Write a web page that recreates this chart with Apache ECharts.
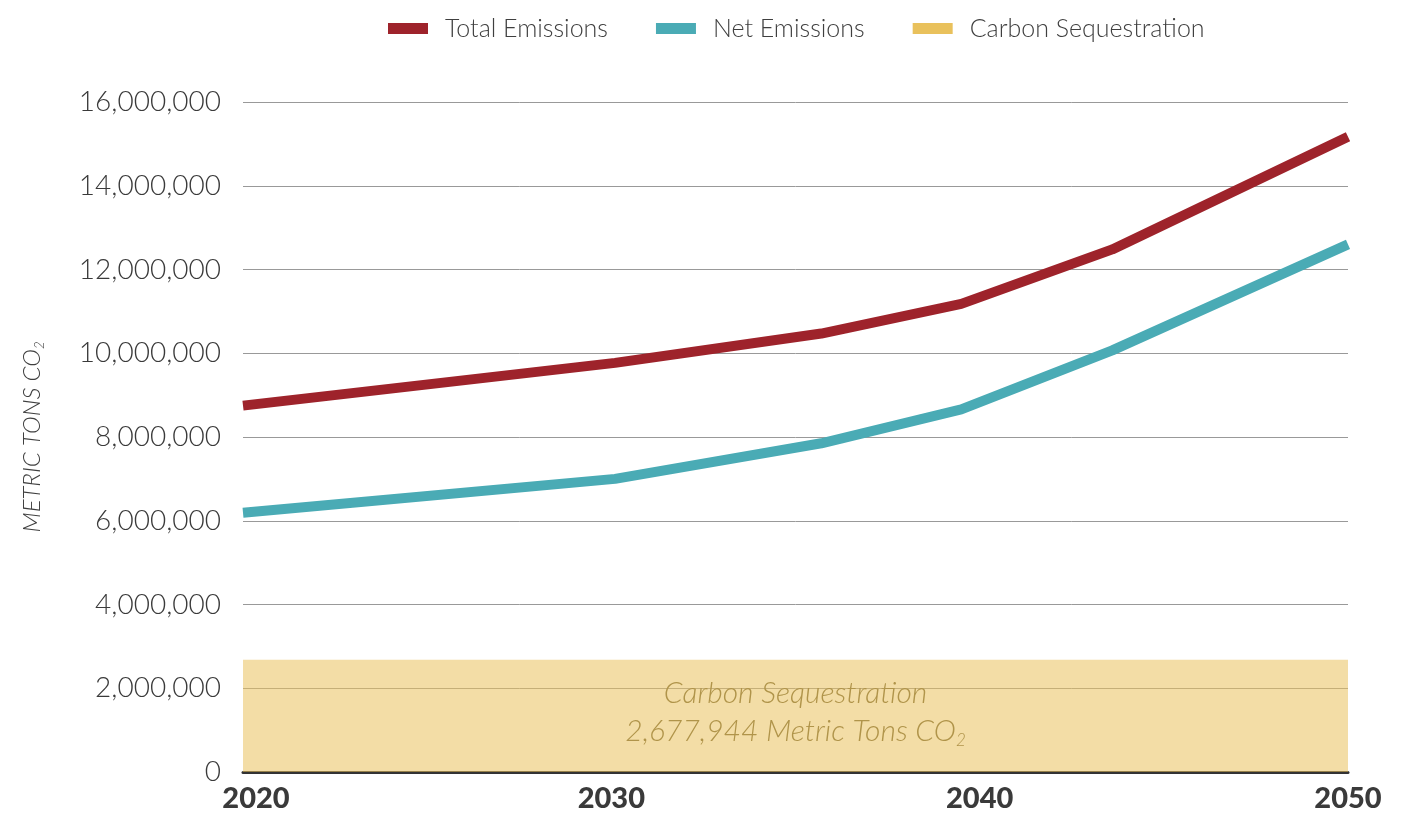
<!DOCTYPE html>
<html>
<head>
<meta charset="utf-8">
<script src="https://cdn.jsdelivr.net/npm/echarts@6/dist/echarts.min.js"></script>
<style>
html,body{margin:0;padding:0;background:#fff;}
#chart{width:1421px;height:813px;}
</style>
</head>
<body>
<div id="chart"></div>
<script>
// Data
const years = [2020, 2030.1, 2035.7, 2039.5, 2043.6, 2050];
const totalEmissions = [8750000, 9770000, 10470000, 11180000, 12480000, 15170000];
const netEmissions = [6190000, 7000000, 7850000, 8660000, 10070000, 12600000];
const sequestration = 2677944;
const xTicks = [2020, 2030, 2040, 2050];
const yTicks = [0, 2000000, 4000000, 6000000, 8000000, 10000000, 12000000, 14000000, 16000000];

const fmt = v => v.toLocaleString('en-US');
const font = 'Lato, "Noto Sans", sans-serif';

const chart = echarts.init(document.getElementById('chart'), null, {renderer: 'canvas'});
chart.setOption({
  animation: false,
  backgroundColor: '#ffffff',
  grid: {left: 243, right: 73, top: 102, bottom: 41, containLabel: false},
  legend: {
    left: 383, top: 11,
    itemWidth: 40, itemHeight: 11, itemGap: 48,
    icon: 'rect',
    textStyle: {fontFamily: font, fontSize: 25, fontWeight: 300, color: '#3f3f3f', padding: [0, 0, 0, 12]},
    data: ['Total Emissions', 'Net Emissions', 'Carbon Sequestration']
  },
  xAxis: {
    type: 'value',
    min: xTicks[0], max: xTicks[xTicks.length - 1], interval: 10,
    axisLine: {show: true, onZero: false, lineStyle: {color: '#333', width: 3}},
    axisTick: {show: false},
    splitLine: {show: false},
    axisLabel: {
      fontFamily: font, fontSize: 29, fontWeight: 900, color: '#3a3a3a', margin: 12,
      formatter: v => (v === xTicks[0] ? '{first|' + v + '}' : String(v)),
      rich: {first: {fontFamily: font, fontSize: 29, fontWeight: 900, color: '#3a3a3a', padding: [0, 0, 0, 26]}}
    }
  },
  yAxis: {
    type: 'value',
    min: yTicks[0], max: yTicks[yTicks.length - 1], interval: 2000000,
    name: 'METRIC TONS CO{sub|2}',
    nameLocation: 'middle', nameGap: 197, nameRotate: 90,
    nameTextStyle: {
      fontFamily: font, fontSize: 24, fontWeight: 300, fontStyle: 'italic', color: '#3f3f3f',
      rich: {sub: {fontFamily: font, fontSize: 13, fontWeight: 300, fontStyle: 'italic', color: '#3f3f3f', verticalAlign: 'bottom', padding: [14, 0, 0, 0]}}
    },
    axisLine: {show: false},
    axisTick: {show: false},
    splitLine: {show: true, lineStyle: {color: '#999', width: 1}},
    axisLabel: {fontFamily: font, fontSize: 28, fontWeight: 300, color: '#3a3a3a', margin: 22, formatter: v => fmt(v)}
  },
  series: [
    {
      name: 'Carbon Sequestration', type: 'line', data: [],
      itemStyle: {color: '#e9c15c'},
      lineStyle: {width: 0},
      symbol: 'none',
      z: 1,
      markArea: {
        silent: true,
        itemStyle: {color: 'rgba(233,193,92,0.55)'},
        label: {
          show: true, position: 'inside', offset: [0, -4],
          formatter: '{a|Carbon Sequestration}\n{a|' + fmt(sequestration) + ' Metric Tons CO}{s|2}',
          rich: {
            a: {fontFamily: font, fontSize: 30, fontWeight: 300, fontStyle: 'italic', color: '#b0944a', lineHeight: 38},
            s: {fontFamily: font, fontSize: 17, fontWeight: 300, fontStyle: 'italic', color: '#b0944a', lineHeight: 38, padding: [20, 0, 0, 0]}
          }
        },
        data: [[{xAxis: xTicks[0], yAxis: 0}, {xAxis: xTicks[xTicks.length - 1], yAxis: sequestration}]]
      }
    },
    {
      name: 'Total Emissions', type: 'line',
      data: years.map((y, i) => [y, totalEmissions[i]]),
      symbol: 'none', z: 3,
      itemStyle: {color: '#9e232b'},
      lineStyle: {color: '#9e232b', width: 10, join: 'round'}
    },
    {
      name: 'Net Emissions', type: 'line',
      data: years.map((y, i) => [y, netEmissions[i]]),
      symbol: 'none', z: 3,
      itemStyle: {color: '#4aabb5'},
      lineStyle: {color: '#4aabb5', width: 10, join: 'round'}
    }
  ]
});
</script>
</body>
</html>
